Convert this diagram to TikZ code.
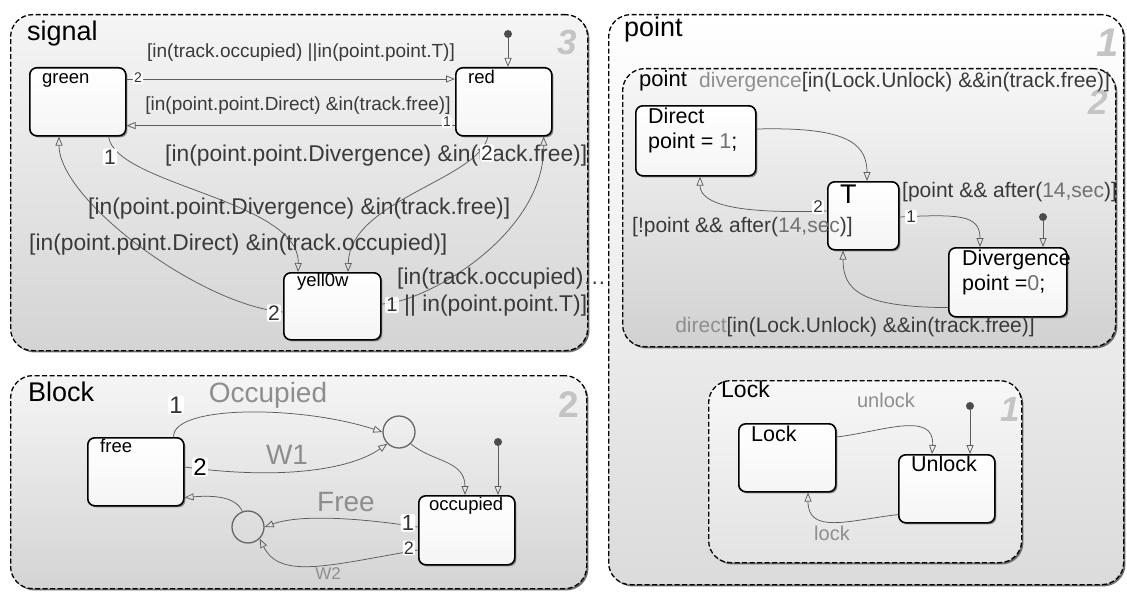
\documentclass[tikz,border=0pt]{standalone}
\usepackage{fontspec}
\setmainfont{Liberation Sans}
\usetikzlibrary{arrows.meta,shadows}

\definecolor{condc}{HTML}{3A3A3A}
\definecolor{evc}{HTML}{8E8E8E}
\definecolor{ordc}{HTML}{333333}
\definecolor{bignum}{HTML}{C4C4C4}
\definecolor{wire}{HTML}{5C5C5C}
\definecolor{pantop}{HTML}{F5F5F5}
\definecolor{panbot}{HTML}{D4D4D4}
\definecolor{numc}{HTML}{707070}

\newcommand{\fsz}[1]{\fontsize{#1}{#1}\selectfont}

\begin{document}
\begin{tikzpicture}[x=1pt, y=-1pt,
  panel/.style={rectangle, rounded corners=22pt, draw=black, line width=1.3pt,
    dash pattern=on 5pt off 2.5pt, top color=pantop, bottom color=panbot,
    anchor=north west, inner sep=0pt,
    drop shadow={shadow xshift=1.8pt, shadow yshift=-1.8pt, fill=black!70, opacity=0.8}},
  stbox/.style={rectangle, rounded corners=7pt, draw=black, line width=1.6pt,
    top color=white, bottom color=black!4, anchor=north west, inner sep=0pt,
    drop shadow={shadow xshift=1.6pt, shadow yshift=-1.6pt, fill=black!55, opacity=0.8}},
  junc/.style={circle, draw=black!60, line width=1.3pt, minimum size=32pt, inner sep=0pt},
  tr/.style={draw=wire, line width=0.75pt, -{Triangle[open, length=9pt, width=7pt]}},
  defdot/.style={circle, fill=black!70, minimum size=8pt, inner sep=0pt},
  cond/.style={text=condc, inner sep=0pt},
  evt/.style={text=evc, inner sep=0pt},
  ordn/.style={fill=white, inner sep=1.2pt, rounded corners=2pt, text=ordc},
  ptitle/.style={anchor=base west, inner sep=0pt, font=\fsz{27}},
  stname/.style={anchor=base west, inner sep=0pt, font=\fsz{18.5}},
  stbig/.style={anchor=base west, inner sep=0pt, font=\fsz{21.5}},
  pnum/.style={text=bignum, inner sep=0pt, font=\bfseries\itshape\fsz{35}}
]
\fill[white] (0,0) rectangle (1127,594);
\useasboundingbox (0,0) rectangle (1127,594);

% ---------- charts ----------
\node[panel, minimum width=577pt, minimum height=336pt] (signalP) at (10,14) {};
\node[panel, minimum width=576pt, minimum height=213pt] (blockP) at (10,375) {};
\node[panel, minimum width=515pt, minimum height=570pt, top color=white, bottom color=black!14] (pointP) at (608,14) {};
\node[panel, minimum width=493pt, minimum height=278pt, top color=black!3, bottom color=black!18] (innerP) at (622,68) {};
\node[panel, minimum width=313pt, minimum height=182pt, top color=black!3, bottom color=black!11] (lockP) at (708,380) {};

\node[ptitle] (tSignal) at (27,41) {signal};
\node[pnum] (nSignal) at (567,42) {3};
\node[ptitle] (tBlock) at (28,401) {Block};
\node[pnum, font=\bfseries\fsz{37}] (nBlock) at (569,405) {2};
\node[ptitle] (tPoint) at (624,37) {point};
\node[pnum, font=\bfseries\itshape\fsz{40}] (nPoint) at (1108,43) {1};
\node[ptitle, font=\fsz{22}] (tInner) at (639,87) {point};
\node[pnum] (nInner) at (1098,102) {2};
\node[ptitle, font=\fsz{23}] (tLock) at (721,397) {Lock};
\node[pnum] (nLock) at (1010,409) {1};

% ---------- signal ----------
\node[stbox, minimum width=96pt, minimum height=68pt] (green) at (29,67) {};
\node[stname] at ([shift={(13,16)}]green.north west) {green};
\node[stbox, minimum width=96pt, minimum height=68pt] (red) at (455,67) {};
\node[stname] at ([shift={(13,16)}]red.north west) {red};
\node[stbox, minimum width=97pt, minimum height=67pt] (yellow) at (283,272) {};
\node[stname] at ([shift={(14,14)}]yellow.north west) {yell0w};

\node[defdot] (dotS) at (508,34) {};
\draw[tr] (dotS) -- (dotS |- red.north);

\draw[tr] ([yshift=-12pt]green.north east) -- ([yshift=-12pt]red.north west);
\draw[tr] ([yshift=11pt]red.south west) -- ([yshift=11pt]green.south east);
\draw[tr] ([xshift=-18pt]green.south east) .. controls (115,185) and (300,200) .. ([xshift=15pt]yellow.north west);
\draw[tr] ([xshift=33pt]red.south west) .. controls (478,180) and (350,200) .. ([xshift=65pt]yellow.north west);
\draw[tr] ([yshift=-40pt]yellow.north west) .. controls (200,305) and (59,200) .. ([xshift=30pt]green.south west);
\draw[tr] ([yshift=-32pt]yellow.north east) .. controls (425,303) and (545,235) .. ([xshift=-9pt]red.south east);

\node[cond, font=\fsz{19}] at (301,53) {[in(track.occupied) ||in(point.point.T)]};
\node[cond, font=\fsz{19}] at (298,106) {[in(point.point.Direct) \&in(track.free)]};
\node[cond, font=\fsz{22.8}, anchor=west] at (165,156) {[in(point.point.Divergence) \&in(track.free)]};
\node[cond, font=\fsz{22.8}, anchor=west] at (88,209) {[in(point.point.Divergence) \&in(track.free)]};
\node[cond, font=\fsz{22.8}, anchor=west] at (29,245) {[in(point.point.Direct) \&in(track.occupied)]};
\node[cond, font=\fsz{22.8}, anchor=west] at (397,279) {[in(track.occupied)…};
\node[cond, font=\fsz{22.8}, anchor=west] at (404,306) {|| in(point.point.T)]};

\node[ordn, font=\fsz{14}] at (138,78) {2};
\node[ordn, font=\fsz{14}] at (447,122) {1};
\node[ordn, font=\fsz{21}] at (110,157) {1};
\node[ordn, font=\fsz{21}] at (487,153) {2};
\node[ordn, font=\fsz{21}] at (274,313) {2};
\node[ordn, font=\fsz{20}, fill opacity=0.85, text opacity=1] at (392,305) {1};

% ---------- Block ----------
\node[stbox, minimum width=96pt, minimum height=68pt] (free) at (87,437) {};
\node[stname] at ([shift={(13,15)}]free.north west) {free};
\node[stbox, minimum width=96pt, minimum height=69pt] (occ) at (418,495) {};
\node[stname] at ([shift={(11,15)}]occ.north west) {occupied};
\node[junc] (c1) at (399,432) {};
\node[junc] (c2) at (248,527) {};

\node[defdot] (dotB) at (498,442) {};
\draw[tr] (dotB) -- (dotB |- occ.north);

\draw[tr] ([xshift=-11pt]free.north east) .. controls (172,405) and (300,405) .. (c1.west);
\draw[tr] ([yshift=-30pt]free.north east) .. controls (280,480) and (350,470) .. (c1.south west);
\draw[tr] (c1.south east) .. controls (432,462) and (465,460) .. ([xshift=47pt]occ.north west);
\draw[tr] ([yshift=-32pt]occ.north west) .. controls (360,518) and (300,514) .. (c2.east);
\draw[tr] ([yshift=-55pt]occ.north west) .. controls (330,565) and (280,580) .. (c2.south east);
\draw[tr] (c2.110) .. controls (236,497) and (215,495) .. ([yshift=9pt]free.south east);

\node[evt, font=\fsz{28}] at (268,395) {Occupied};
\node[evt, font=\fsz{28}] at (287,455) {W1};
\node[evt, font=\fsz{28}] at (346,502) {Free};
\node[evt, font=\fsz{17}] at (328,574) {W2};

\node[ordn, font=\fsz{24}] at (176,405) {1};
\node[ordn, font=\fsz{24}, text=black] at (200,467) {2};
\node[ordn, font=\fsz{22}] at (408,523) {1};
\node[ordn, font=\fsz{18}] at (409,548) {2};

% ---------- point ----------
\node[stbox, minimum width=120pt, minimum height=70pt] (Direct) at (635,105) {};
\node[stbig] at ([shift={(13,18)}]Direct.north west) {Direct};
\node[stbig] at ([shift={(13,43)}]Direct.north west) {point = {\color{numc}1};};
\node[stbox, minimum width=71pt, minimum height=68pt] (T) at (827,181) {};
\node[stbig, font=\fsz{27}] at ([shift={(13,22)}]T.north west) {T};
\node[stbox, minimum width=118pt, minimum height=69pt] (Div) at (948,247) {};
\node[stbig] at ([shift={(14,18)}]Div.north west) {Divergence};
\node[stbig] at ([shift={(14,43)}]Div.north west) {point ={\color{numc}0};};

\node[defdot] (dotP) at (1043,217) {};
\draw[tr] (dotP) -- (dotP |- Div.north);

\draw[tr] ([yshift=-24pt]Direct.north east) .. controls (840,127) and (867,140) .. ([xshift=40pt]T.north west);
\draw[tr] ([yshift=-30pt]T.north west) .. controls (740,214) and (700,205) .. ([xshift=65pt]Direct.south west);
\draw[tr] ([yshift=-36pt]T.north east) .. controls (960,214) and (980,215) .. ([xshift=32pt]Div.north west);
\draw[tr] ([yshift=10pt]Div.south west) .. controls (860,307) and (843,290) .. ([xshift=16pt]T.south west);

\node[cond, font=\fsz{21}, anchor=base west] at (699,88) {{\color{evc}divergence}[in(Lock.Unlock) \&\&in(track.free)]};
\node[cond, font=\fsz{21}, anchor=west] at (632,227) {[!point \&\& after({\color{numc}14,sec})]};
\node[cond, font=\fsz{21}, anchor=west] at (902,192) {[point \&\& after({\color{numc}14,sec})]};
\node[cond, font=\fsz{21}] at (855,327) {{\color{evc}direct}[in(Lock.Unlock) \&\&in(track.free)]};

\node[ordn, font=\fsz{17}] at (818,207) {2};
\node[ordn, font=\fsz{17}] at (911,217) {1};

% ---------- Lock ----------
\node[stbox, minimum width=97pt, minimum height=68pt] (LockS) at (738,423) {};
\node[stbig] at ([shift={(13,18)}]LockS.north west) {Lock};
\node[stbox, minimum width=96pt, minimum height=68pt] (Unlock) at (898,454) {};
\node[stbig] at ([shift={(13,17)}]Unlock.north west) {Unlock};

\node[defdot] (dotL) at (970,406) {};
\draw[tr] (dotL) -- (dotL |- Unlock.north);

\draw[tr] ([yshift=-14pt]LockS.north east) .. controls (880,432) and (935,410) .. ([xshift=34pt]Unlock.north west);
\draw[tr] ([yshift=9pt]Unlock.south west) .. controls (850,520) and (808,535) .. ([xshift=70pt]LockS.south west);

\node[evt, font=\fsz{20}] at (886,400) {unlock};
\node[evt, font=\fsz{20}] at (832,533) {lock};
\end{tikzpicture}
\end{document}
